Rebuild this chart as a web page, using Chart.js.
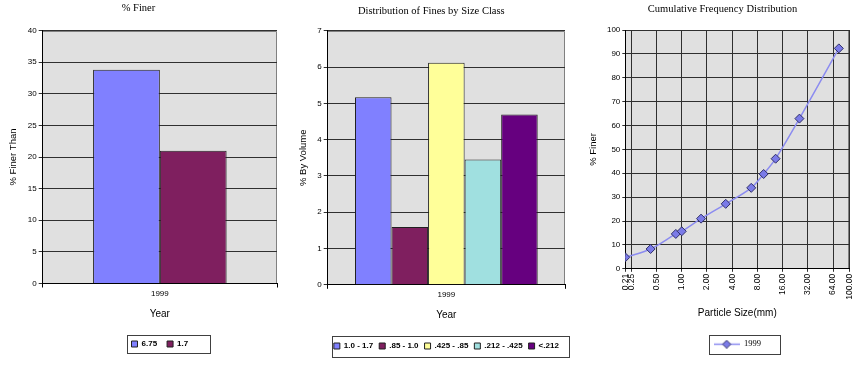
<!DOCTYPE html>
<html lang="en">
<head>
    <meta charset="UTF-8">
    <title>Fines distribution 1999</title>
    <script src="https://cdn.jsdelivr.net/npm/chart.js"></script>
    <style>
        body { margin: 0; background: #fff; }
        canvas { position: absolute; top: 0; }
    </style>
</head>
<body>
    <canvas id="finerChart" width="290" height="385" style="left:0px"></canvas>
    <canvas id="classChart" width="290" height="385" style="left:290px"></canvas>
    <canvas id="cumulativeChart" width="288" height="385" style="left:580px"></canvas>
    <script>
        // data
        const years = ['1999'];
        const finerSizes = ['6.75', '1.7'];
        const finerValues = [33.8, 21.0];
        const sizeClasses = ['1.0 - 1.7', '.85 - 1.0', '.425 - .85', '.212 - .425', '<.212'];
        const sizeClassValues = [5.17, 1.59, 6.12, 3.45, 4.69];
        const particleSizes = [0.212, 0.425, 0.85, 1.0, 1.7, 3.35, 6.75, 9.5, 13.2, 25.4, 75];
        const percentFiner = [4.8, 8.3, 14.6, 15.7, 21.0, 27.2, 33.9, 39.7, 46.1, 62.9, 92.3];
        const sizeTicks = [0.212, 0.25, 0.5, 1, 2, 4, 8, 16, 32, 64, 100];

        const palette = ['#8080ff', '#7f1f5f', '#ffff99', '#a0e0e0', '#66007f'];
        const titleFont = { family: "'Liberation Serif', 'Times New Roman', serif", size: 10.5, weight: 'normal' };

        Chart.defaults.font.family = "'Liberation Sans', Arial, sans-serif";
        Chart.defaults.font.size = 8;
        Chart.defaults.color = '#000';

        // grey plot area + frame around the legend, like the old spreadsheet charts
        const plotBox = {
            id: 'plotBox',
            beforeDraw(chart) {
                const { ctx, chartArea: a } = chart;
                ctx.save();
                ctx.fillStyle = '#e0e0e0';
                ctx.fillRect(a.left, a.top, a.right - a.left, a.bottom - a.top);
                ctx.strokeStyle = '#808080';
                ctx.lineWidth = 1;
                ctx.beginPath();
                ctx.moveTo(a.left, Math.round(a.top) + 0.5);
                ctx.lineTo(Math.round(a.right) - 0.5, Math.round(a.top) + 0.5);
                ctx.lineTo(Math.round(a.right) - 0.5, a.bottom);
                ctx.stroke();
                ctx.restore();
            },
            afterDraw(chart, args, opts) {
                const boxes = chart.legend && chart.legend.legendHitBoxes;
                if (!boxes || !boxes.length) return;
                const left = Math.min(...boxes.map(b => b.left)) - opts.padLeft;
                const right = Math.max(...boxes.map(b => b.left + b.width)) + opts.padRight;
                const mid = boxes[0].top + boxes[0].height / 2;
                const ctx = chart.ctx;
                ctx.save();
                ctx.strokeStyle = '#404040';
                ctx.lineWidth = 1;
                ctx.strokeRect(Math.round(left) + 0.5, Math.round(mid - opts.half) + 0.5,
                    Math.round(right - left), Math.round(opts.half * 2));
                ctx.restore();
            }
        };

        function barDatasets(labels, values) {
            return labels.map((label, i) => ({
                label: label,
                data: [values[i]],
                backgroundColor: palette[i],
                borderColor: '#202020',
                borderWidth: 1,
            }));
        }

        // % Finer
        new Chart(document.getElementById('finerChart'), {
            type: 'bar',
            data: { labels: years, datasets: barDatasets(finerSizes, finerValues) },
            plugins: [plotBox],
            options: {
                responsive: false,
                animation: false,
                devicePixelRatio: 1,
                datasets: { bar: { categoryPercentage: 0.57, barPercentage: 1 } },
                layout: { padding: { left: 0, right: 13, top: 0, bottom: 27 } },
                plugins: {
                    title: { display: true, text: '% Finer', font: titleFont, color: '#000', padding: { top: 2.4, bottom: 15.5 } },
                    legend: {
                        position: 'bottom', fullSize: false,
                        labels: { font: { size: 8, weight: 'bold' }, boxWidth: 6, boxHeight: 6, padding: 10, color: '#000' }
                    },
                    tooltip: { enabled: false },
                    plotBox: { padLeft: 5, padRight: 21, half: 9 }
                },
                scales: {
                    x: {
                        afterFit: s => { s.height = 46.5; },
                        grid: { drawOnChartArea: false, tickLength: 4, color: '#000' },
                        border: { color: '#000' },
                        ticks: { padding: 1 },
                        title: { display: true, text: 'Year', font: { size: 10 }, padding: { top: 0, bottom: 10 } }
                    },
                    y: {
                        min: 0, max: 40,
                        afterFit: s => { s.width = 42.7; },
                        ticks: { stepSize: 5, padding: 2 },
                        grid: { color: '#303030', tickLength: 4 },
                        border: { color: '#000' },
                        title: { display: true, text: '% Finer Than', font: { size: 9.5 }, padding: { top: 7.3, bottom: 0 } }
                    }
                }
            }
        });

        // Distribution of Fines by Size Class
        new Chart(document.getElementById('classChart'), {
            type: 'bar',
            data: { labels: years, datasets: barDatasets(sizeClasses, sizeClassValues) },
            plugins: [plotBox],
            options: {
                responsive: false,
                animation: false,
                devicePixelRatio: 1,
                datasets: { bar: { categoryPercentage: 0.77, barPercentage: 1 } },
                layout: { padding: { left: 7.6, right: 15, top: 0, bottom: 25 } },
                plugins: {
                    title: { display: true, text: 'Distribution of Fines by Size Class', font: titleFont, color: '#000', padding: { top: 5, bottom: 13.1 } },
                    legend: {
                        position: 'bottom', fullSize: false,
                        labels: { font: { size: 8, weight: 'bold' }, boxWidth: 6, boxHeight: 6, padding: 6, color: '#000' }
                    },
                    tooltip: { enabled: false },
                    plotBox: { padLeft: 2, padRight: 10, half: 10.5 }
                },
                scales: {
                    x: {
                        afterFit: s => { s.height = 51.2; },
                        grid: { drawOnChartArea: false, tickLength: 4, color: '#000' },
                        border: { color: '#000' },
                        ticks: { padding: 1 },
                        title: { display: true, text: 'Year', font: { size: 10 }, padding: { top: 0, bottom: 14.5 } }
                    },
                    y: {
                        min: 0, max: 7,
                        afterFit: s => { s.width = 30.1; },
                        ticks: { stepSize: 1, padding: 2 },
                        grid: { color: '#303030', tickLength: 4 },
                        border: { color: '#000' },
                        title: { display: true, text: '% By Volume', font: { size: 9.5 }, padding: { top: 0, bottom: 0 } }
                    }
                }
            }
        });

        // legend symbol: short line with a diamond on it
        const legendIcon = document.createElement('canvas');
        legendIcon.width = 26;
        legendIcon.height = 9;
        (function () {
            const c = legendIcon.getContext('2d');
            c.strokeStyle = '#8c8cf0';
            c.lineWidth = 1.5;
            c.beginPath();
            c.moveTo(0, 4.5);
            c.lineTo(26, 4.5);
            c.stroke();
            c.fillStyle = '#7b7be8';
            c.strokeStyle = '#30306a';
            c.lineWidth = 1;
            c.beginPath();
            c.moveTo(13, 0.5);
            c.lineTo(17, 4.5);
            c.lineTo(13, 8.5);
            c.lineTo(9, 4.5);
            c.closePath();
            c.fill();
            c.stroke();
        })();

        // Cumulative Frequency Distribution
        new Chart(document.getElementById('cumulativeChart'), {
            type: 'scatter',
            data: {
                datasets: [{
                    label: years[0],
                    data: particleSizes.map((x, i) => ({ x: x, y: percentFiner[i] })),
                    showLine: true,
                    tension: 0.35,
                    borderColor: '#8c8cf0',
                    borderWidth: 1.5,
                    pointStyle: 'rectRot',
                    pointRadius: 4.5,
                    pointBackgroundColor: '#7b7be8',
                    pointBorderColor: '#30306a',
                    pointBorderWidth: 1,
                }]
            },
            plugins: [plotBox],
            options: {
                responsive: false,
                animation: false,
                devicePixelRatio: 1,
                layout: { padding: { left: 15.7, right: 18.7, top: 0, bottom: 26.5 } },
                plugins: {
                    title: { display: true, text: 'Cumulative Frequency Distribution', font: titleFont, color: '#000', padding: { top: 2.5, bottom: 14.9 } },
                    legend: {
                        position: 'bottom', fullSize: false,
                        labels: {
                            font: { family: "'Liberation Serif', serif", size: 8.5 },
                            usePointStyle: true, pointStyle: legendIcon, pointStyleWidth: 26,
                            padding: 6, color: '#000'
                        }
                    },
                    tooltip: { enabled: false },
                    plotBox: { padLeft: 5, padRight: 19, half: 9.5 }
                },
                scales: {
                    x: {
                        type: 'logarithmic',
                        min: 0.212, max: 100,
                        afterBuildTicks: s => { s.ticks = sizeTicks.map(v => ({ value: v })); },
                        afterFit: s => { s.height = 65.2; },
                        ticks: {
                            autoSkip: false, minRotation: 90, maxRotation: 90, padding: 2,
                            font: { size: 8.5 },
                            callback: v => Number(v).toFixed(2)
                        },
                        grid: { color: '#303030', tickLength: 3 },
                        border: { color: '#000' },
                        title: { display: true, text: 'Particle Size(mm)', font: { size: 10 }, padding: { top: 0, bottom: 15.2 } }
                    },
                    y: {
                        min: 0, max: 100,
                        afterFit: s => { s.width = 29.6; },
                        ticks: { stepSize: 10, padding: 2 },
                        grid: { color: '#303030', tickLength: 3 },
                        border: { color: '#000' },
                        title: { display: true, text: '% Finer', font: { size: 9.5 }, padding: { top: -8.4, bottom: 0 } }
                    }
                }
            }
        });
    </script>
</body>
</html>
